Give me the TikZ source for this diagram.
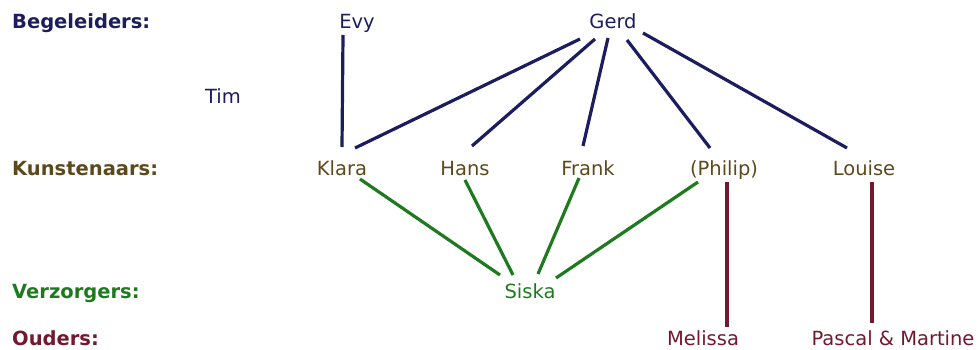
\documentclass[tikz,border=0pt]{standalone}
\usepackage{fontspec}
\setmainfont{DejaVu Sans}
\definecolor{navy}{HTML}{1C1D5E}
\definecolor{olive}{HTML}{5C4A1C}
\definecolor{leaf}{HTML}{1F7A1F}
\definecolor{wine}{HTML}{72192F}
\begin{document}
\begin{tikzpicture}[x=1pt,y=-1pt,
  every node/.style={inner sep=0pt,anchor=base,font=\fontsize{19.5}{23}\selectfont},
  rowlabel/.style={anchor=base west,font=\fontsize{19.5}{23}\selectfont\bfseries},
  link/.style={line width=3.2pt},
]
\useasboundingbox (0,0) rectangle (979,350);

% row labels
\node[rowlabel,text=navy]  (lbeg) at (12,29)  {Begeleiders:};
\node[rowlabel,text=olive] (lkun) at (12,175) {Kunstenaars:};
\node[rowlabel,text=leaf]  (lver) at (12,298) {Verzorgers:};
\node[rowlabel,text=wine]  (loud) at (12,345) {Ouders:};

% people
\node[text=navy] (evy)  at (357,29)  {Evy};
\node[text=navy] (gerd) at (613,29)  {Gerd};
\node[text=navy] (tim)  at (223,103) {Tim};

\node[text=olive] (klara)  at (342,175) {Klara};
\node[text=olive] (hans)   at (465,175) {Hans};
\node[text=olive] (frank)  at (588,175) {Frank};
\node[text=olive] (philip) at (724,175) {(Philip)};
\node[text=olive] (louise) at (864,175) {Louise};

\node[text=leaf] (siska) at (530,298) {Siska};

\node[text=wine] (melissa) at (703,345) {Melissa};
\node[text=wine] (pascal)  at (893,345) {Pascal \& Martine};

% begeleiders -> kunstenaars
\begin{scope}[link,draw=navy]
\draw ([shift={(-14,6)}]evy.base)   -- ([shift={(0,-28)}]klara.base);
\draw ([shift={(-33,10)}]gerd.base) -- ([shift={(13,-27)}]klara.base);
\draw ([shift={(-18,10)}]gerd.base) -- ([shift={(7,-29)}]hans.base);
\draw ([shift={(-5,9)}]gerd.base)   -- ([shift={(-5,-29)}]frank.base);
\draw ([shift={(14,11)}]gerd.base)  -- ([shift={(-14,-27)}]philip.base);
\draw ([shift={(30,4)}]gerd.base)   -- ([shift={(-17,-27)}]louise.base);
\end{scope}

% kunstenaars -> verzorgers
\begin{scope}[link,draw=leaf]
\draw ([shift={(18,4)}]klara.base)   -- ([shift={(-30,-23)}]siska.base);
\draw ([shift={(0,5)}]hans.base)     -- ([shift={(-17,-23)}]siska.base);
\draw ([shift={(-9,3)}]frank.base)   -- ([shift={(8,-24)}]siska.base);
\draw ([shift={(-26,7)}]philip.base) -- ([shift={(26,-20)}]siska.base);
\end{scope}

% kunstenaars -> ouders
\begin{scope}[link,draw=wine]
\draw ([shift={(3,7)}]philip.base) -- ([shift={(24,-18)}]melissa.base);
\draw ([shift={(8,7)}]louise.base) -- ([shift={(-21,-22)}]pascal.base);
\end{scope}
\end{tikzpicture}
\end{document}
